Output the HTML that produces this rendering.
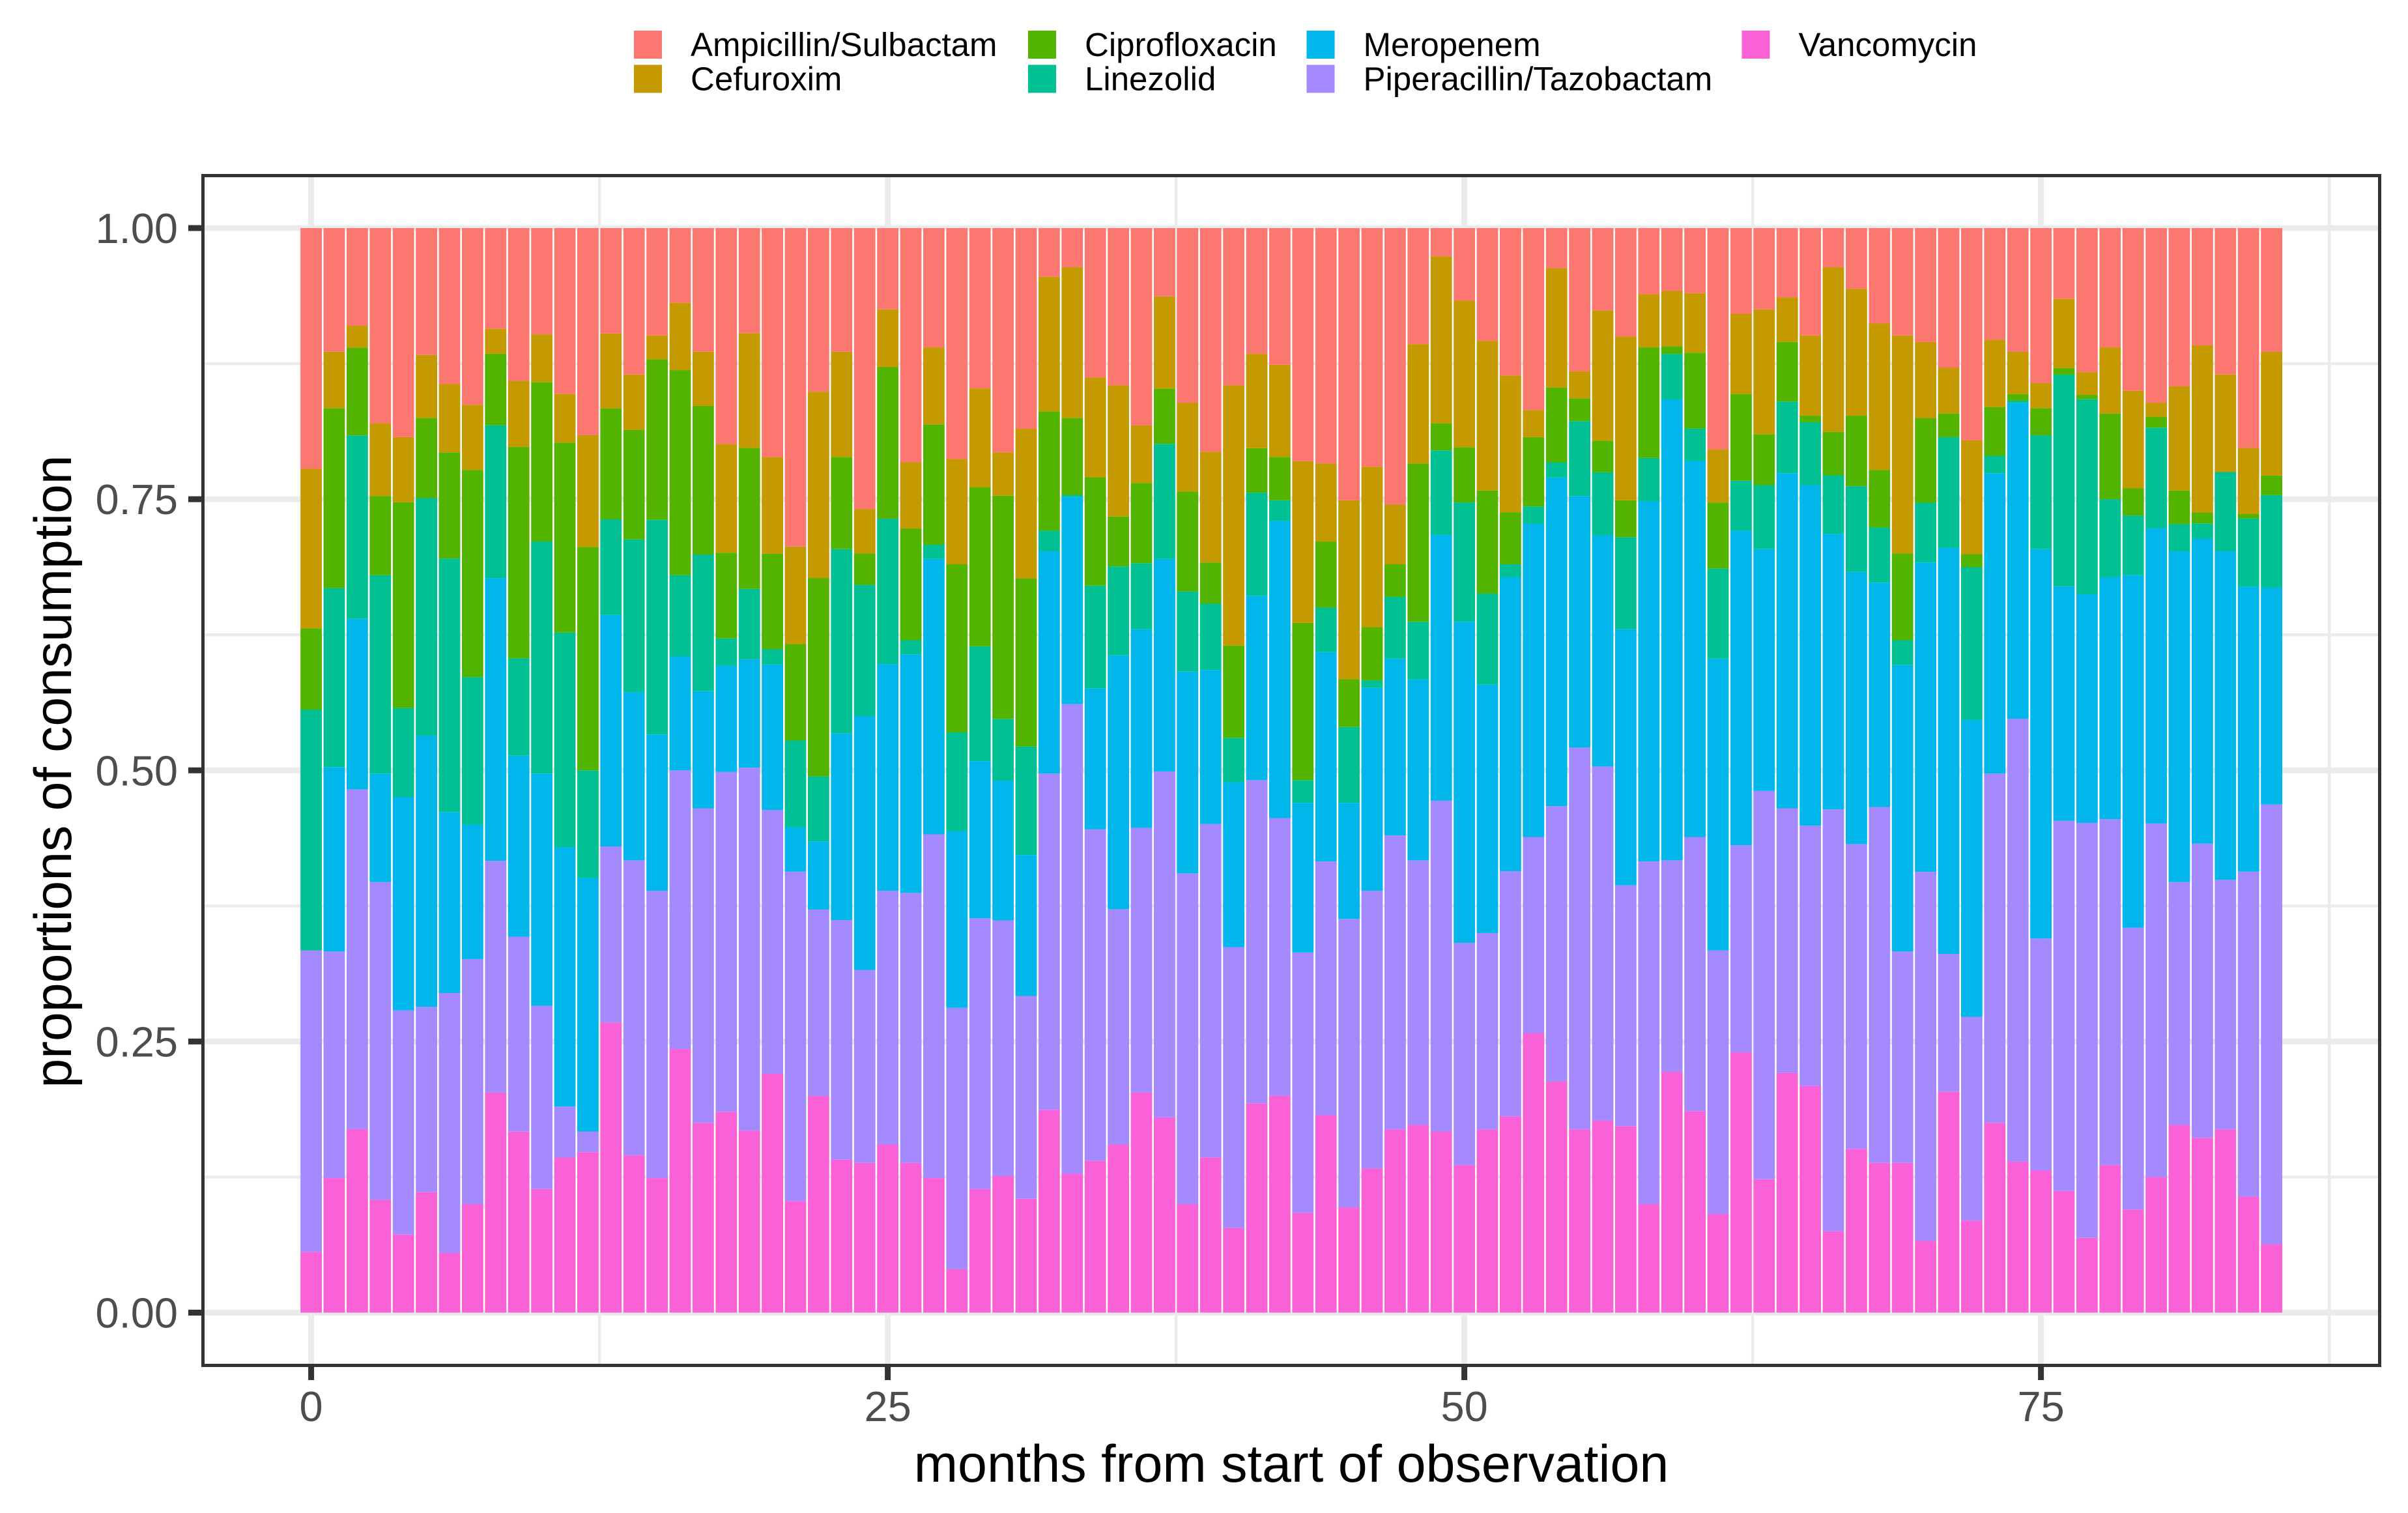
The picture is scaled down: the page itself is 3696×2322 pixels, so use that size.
<!DOCTYPE html>
<html>
<head>
<meta charset="utf-8">
<title>Proportions of antibiotic consumption</title>
<style>
html,body{margin:0;padding:0;background:#fff;}
svg{display:block;font-family:"Liberation Sans",Arial,sans-serif;}
</style>
</head>
<body>
<svg id="chart" xmlns="http://www.w3.org/2000/svg" width="3696" height="2322" viewBox="0 0 3696 2322">
  <rect x="0" y="0" width="3696" height="2322" fill="#ffffff"/>
  <g id="grid"></g>
  <g id="bars"></g>
  <rect x="311.5" y="269.5" width="3341" height="1826" fill="none" stroke="#333333" stroke-width="5"/>
  <g id="y-axis"></g>
  <g id="x-axis"></g>
  <text x="1982" y="2274" font-size="80.8" text-anchor="middle" fill="#000000">months from start of observation</text>
  <text transform="translate(109 1184) rotate(-90)" x="0" y="0" font-size="80.5" text-anchor="middle" fill="#000000">proportions of consumption</text>
  <g id="legend"></g>
</svg>
<script>
const months = Array.from({length: 86}, (_, i) => i);
const ampicillinSulbactam = [0.222,0.114,0.090,0.180,0.193,0.117,0.144,0.163,0.093,0.141,0.098,0.153,0.191,0.097,0.135,0.099,0.069,0.114,0.199,0.097,0.211,0.294,0.151,0.114,0.259,0.075,0.216,0.110,0.213,0.148,0.207,0.185,0.045,0.036,0.138,0.145,0.182,0.063,0.161,0.206,0.145,0.116,0.126,0.215,0.217,0.251,0.220,0.255,0.107,0.026,0.067,0.104,0.136,0.168,0.037,0.132,0.076,0.100,0.061,0.058,0.060,0.204,0.079,0.075,0.064,0.099,0.036,0.056,0.088,0.099,0.105,0.129,0.196,0.103,0.114,0.143,0.065,0.133,0.110,0.150,0.161,0.146,0.108,0.135,0.203,0.114];
const cefuroxim = [0.147,0.052,0.020,0.067,0.060,0.058,0.063,0.060,0.023,0.061,0.044,0.045,0.103,0.069,0.051,0.022,0.062,0.050,0.100,0.106,0.089,0.090,0.172,0.097,0.041,0.053,0.061,0.071,0.097,0.091,0.040,0.138,0.124,0.139,0.092,0.121,0.053,0.085,0.082,0.102,0.240,0.087,0.085,0.149,0.072,0.165,0.148,0.055,0.110,0.154,0.135,0.138,0.126,0.025,0.110,0.025,0.120,0.151,0.049,0.051,0.055,0.049,0.074,0.115,0.041,0.074,0.152,0.117,0.135,0.201,0.070,0.042,0.105,0.062,0.039,0.023,0.064,0.021,0.061,0.090,0.013,0.096,0.154,0.090,0.061,0.114];
const ciprofloxacin = [0.075,0.166,0.081,0.073,0.190,0.074,0.098,0.191,0.066,0.195,0.147,0.175,0.206,0.102,0.101,0.148,0.189,0.137,0.079,0.130,0.088,0.089,0.183,0.085,0.029,0.140,0.103,0.111,0.155,0.147,0.206,0.155,0.110,0.071,0.100,0.046,0.074,0.051,0.092,0.038,0.085,0.041,0.040,0.145,0.061,0.044,0.049,0.030,0.146,0.025,0.051,0.095,0.048,0.064,0.069,0.021,0.029,0.034,0.102,0.007,0.070,0.061,0.080,0.047,0.055,0.006,0.040,0.065,0.053,0.080,0.078,0.022,0.012,0.045,0.006,0.025,0.006,0.004,0.079,0.025,0.010,0.031,0.010,0.000,0.004,0.018];
const linezolid = [0.222,0.165,0.169,0.183,0.082,0.219,0.234,0.136,0.141,0.090,0.214,0.198,0.099,0.088,0.141,0.198,0.075,0.126,0.025,0.065,0.014,0.080,0.060,0.170,0.121,0.134,0.013,0.013,0.091,0.106,0.057,0.100,0.019,0.002,0.095,0.082,0.061,0.106,0.074,0.061,0.041,0.095,0.019,0.021,0.041,0.070,0.007,0.057,0.053,0.078,0.110,0.084,0.012,0.016,0.014,0.069,0.058,0.085,0.040,0.042,0.030,0.083,0.046,0.059,0.066,0.058,0.054,0.079,0.051,0.023,0.055,0.102,0.141,0.016,0.002,0.105,0.195,0.180,0.072,0.055,0.093,0.025,0.014,0.073,0.063,0.085];
const meropenem = [0.000,0.170,0.157,0.100,0.197,0.250,0.167,0.124,0.261,0.167,0.214,0.239,0.234,0.213,0.155,0.144,0.105,0.108,0.098,0.100,0.134,0.041,0.063,0.172,0.234,0.209,0.220,0.254,0.163,0.145,0.129,0.130,0.205,0.191,0.130,0.234,0.183,0.196,0.186,0.142,0.152,0.170,0.274,0.138,0.193,0.107,0.187,0.163,0.167,0.245,0.296,0.229,0.271,0.289,0.303,0.232,0.213,0.236,0.332,0.425,0.347,0.269,0.290,0.223,0.309,0.314,0.254,0.251,0.207,0.264,0.285,0.375,0.274,0.277,0.291,0.359,0.216,0.211,0.223,0.325,0.272,0.305,0.281,0.303,0.263,0.200];
const piperacillinTazobactam = [0.278,0.209,0.313,0.293,0.207,0.171,0.240,0.226,0.214,0.180,0.169,0.047,0.019,0.162,0.272,0.265,0.257,0.290,0.313,0.335,0.243,0.304,0.172,0.221,0.178,0.234,0.249,0.317,0.241,0.250,0.236,0.187,0.310,0.433,0.306,0.217,0.244,0.319,0.305,0.307,0.259,0.298,0.256,0.240,0.234,0.266,0.256,0.271,0.244,0.305,0.205,0.181,0.226,0.181,0.254,0.352,0.326,0.222,0.316,0.195,0.253,0.243,0.191,0.358,0.244,0.240,0.389,0.281,0.328,0.195,0.340,0.127,0.188,0.322,0.408,0.214,0.341,0.383,0.319,0.260,0.326,0.224,0.271,0.230,0.300,0.405];
const vancomycin = [0.056,0.124,0.169,0.104,0.072,0.111,0.055,0.100,0.203,0.167,0.114,0.143,0.148,0.267,0.145,0.124,0.243,0.175,0.185,0.168,0.220,0.103,0.200,0.141,0.138,0.155,0.138,0.124,0.040,0.114,0.126,0.105,0.187,0.128,0.140,0.155,0.203,0.180,0.100,0.143,0.078,0.193,0.200,0.092,0.182,0.097,0.133,0.169,0.173,0.167,0.136,0.169,0.181,0.258,0.213,0.169,0.177,0.172,0.100,0.222,0.186,0.091,0.240,0.123,0.221,0.209,0.075,0.151,0.138,0.138,0.066,0.204,0.085,0.175,0.139,0.131,0.112,0.069,0.136,0.095,0.125,0.173,0.161,0.169,0.107,0.063];

const seriesNames = ['Ampicillin/Sulbactam','Cefuroxim','Ciprofloxacin','Linezolid','Meropenem','Piperacillin/Tazobactam','Vancomycin'];
const seriesValues = [ampicillinSulbactam,cefuroxim,ciprofloxacin,linezolid,meropenem,piperacillinTazobactam,vancomycin];
const seriesColors = ['#FC7770','#C49A00','#53B400','#00C094','#00B6EB','#A58AFF','#FB61D7'];
const yTicks = [0,0.25,0.5,0.75,1];
const yTickLabels = ['0.00','0.25','0.50','0.75','1.00'];
const yMinorTicks = [0.125,0.375,0.625,0.875];
const xTicks = [0,25,50,75];
const xTickLabels = ['0','25','50','75'];
const xMinorTicks = [12.5,37.5,62.5,87.5];

const NS = 'http://www.w3.org/2000/svg';
function xScale(v){ return 477.6 + v * 35.4; }
function yScale(v){ return 2014.5 - v * 1664.5; }
const barWidth = 32.8;
function make(tag, parent){
  const el = document.createElementNS(NS, tag);
  parent.appendChild(el);
  return el;
}
function slug(s){ return s.toLowerCase().replace(/[^a-z0-9]+/g,'-'); }

const grid = document.getElementById('grid');
function hLine(v, w, name){
  const l = make('line', grid);
  l.setAttribute('x1', 314); l.setAttribute('x2', 3650);
  l.setAttribute('y1', yScale(v)); l.setAttribute('y2', yScale(v));
  l.setAttribute('stroke', '#EBEBEB'); l.setAttribute('stroke-width', w);
  
  
}
function vLine(v, w, name){
  const l = make('line', grid);
  l.setAttribute('y1', 272); l.setAttribute('y2', 2093);
  l.setAttribute('x1', xScale(v)); l.setAttribute('x2', xScale(v));
  l.setAttribute('stroke', '#EBEBEB'); l.setAttribute('stroke-width', w);
  
  
}
yMinorTicks.forEach(v => hLine(v, 4.5, 'y-minor-gridline'));
xMinorTicks.forEach(v => vLine(v, 4.5, 'x-minor-gridline'));
yTicks.forEach(v => hLine(v, 9, 'y-major-gridline'));
xTicks.forEach(v => vLine(v, 9, 'x-major-gridline'));

const barsGroup = document.getElementById('bars');
months.forEach((m, i) => {
  const total = seriesValues.reduce((sum, s) => sum + s[i], 0);
  let cumulative = 0;
  for (let k = seriesValues.length - 1; k >= 0; k--) {
    const share = seriesValues[k][i] / total;
    if (share <= 0) continue;
    const top = yScale(cumulative + share);
    const bottom = yScale(cumulative);
    const r = make('rect', barsGroup);
    r.setAttribute('x', xScale(m) - barWidth / 2);
    r.setAttribute('y', top);
    r.setAttribute('width', barWidth);
    r.setAttribute('height', bottom - top);
    r.setAttribute('fill', seriesColors[k]);
    
    
    cumulative += share;
  }
});

const yAxis = document.getElementById('y-axis');
yTicks.forEach((v, i) => {
  const t = make('line', yAxis);
  t.setAttribute('x1', 289); t.setAttribute('x2', 311);
  t.setAttribute('y1', yScale(v)); t.setAttribute('y2', yScale(v));
  t.setAttribute('stroke', '#333333'); t.setAttribute('stroke-width', 9);
  
  
  const s = make('text', yAxis);
  s.setAttribute('x', 273); s.setAttribute('y', yScale(v) + 23);
  s.setAttribute('text-anchor', 'end');
  s.setAttribute('font-size', 65); s.setAttribute('fill', '#4D4D4D');
  s.textContent = yTickLabels[i];
  
  
});

const xAxis = document.getElementById('x-axis');
xTicks.forEach((v, i) => {
  const t = make('line', xAxis);
  t.setAttribute('x1', xScale(v)); t.setAttribute('x2', xScale(v));
  t.setAttribute('y1', 2096); t.setAttribute('y2', 2118);
  t.setAttribute('stroke', '#333333'); t.setAttribute('stroke-width', 9);
  
  
  const s = make('text', xAxis);
  s.setAttribute('x', xScale(v)); s.setAttribute('y', 2181);
  s.setAttribute('text-anchor', 'middle');
  s.setAttribute('font-size', 65); s.setAttribute('fill', '#4D4D4D');
  s.textContent = xTickLabels[i];
  
  
});

const legend = document.getElementById('legend');
const legendColumnX = [973, 1578, 2005.5, 2673.5];
const legendRowY = [47, 99.5];
seriesNames.forEach((name, i) => {
  const col = Math.floor(i / 2);
  const row = i % 2;
  const g = make('g', legend);
  
  
  const sw = make('rect', g);
  sw.setAttribute('x', legendColumnX[col]);
  sw.setAttribute('y', legendRowY[row]);
  sw.setAttribute('width', 43);
  sw.setAttribute('height', 43);
  sw.setAttribute('fill', seriesColors[i]);
  
  
  const t = make('text', g);
  t.setAttribute('x', legendColumnX[col] + 87);
  t.setAttribute('y', legendRowY[row] + 39);
  t.setAttribute('font-size', 51);
  t.setAttribute('fill', '#000000');
  t.textContent = name;
  
  
});
</script>
</body>
</html>
